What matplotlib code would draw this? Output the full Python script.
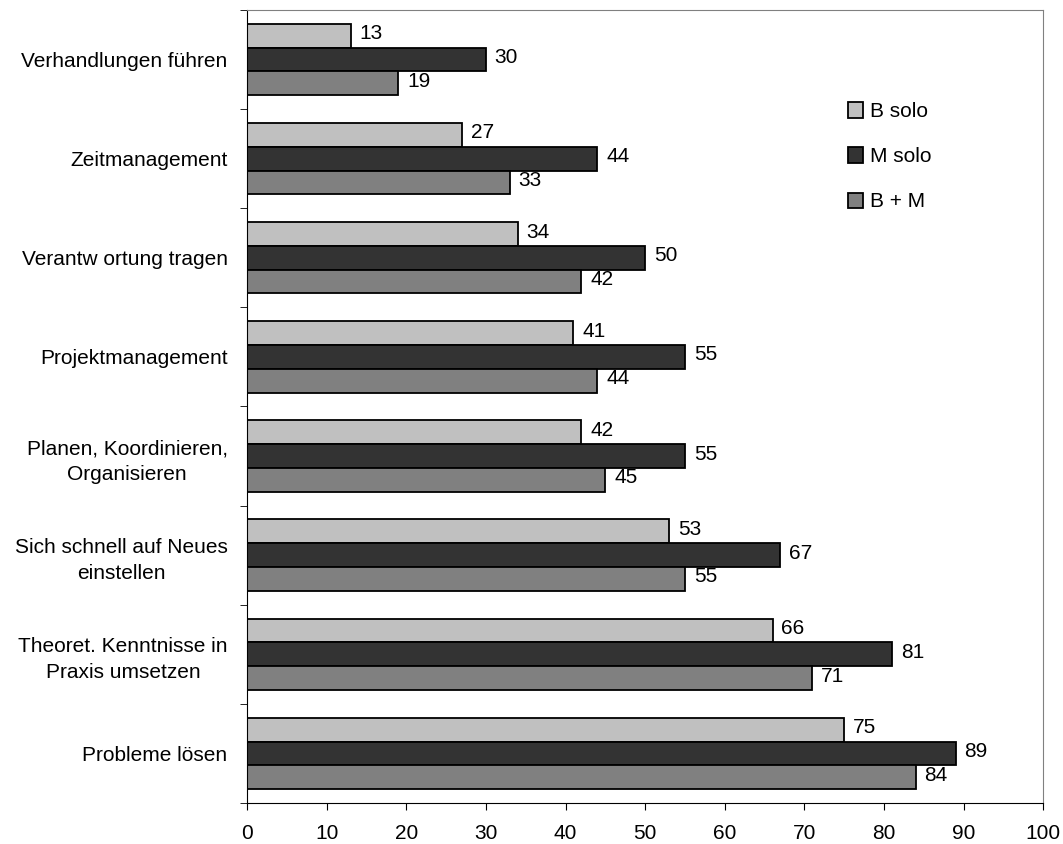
import numpy as np
import matplotlib
matplotlib.use("Agg")
import matplotlib.pyplot as plt

plt.rcParams['font.family'] = ['Liberation Sans', 'DejaVu Sans']

# categories top to bottom, as in the chart
categories = ["Verhandlungen führen", "Zeitmanagement", "Verantw ortung tragen",
              "Projektmanagement", "Planen, Koordinieren,\nOrganisieren",
              "Sich schnell auf Neues\neinstellen",
              "Theoret. Kenntnisse in\nPraxis umsetzen", "Probleme lösen"]
b_solo = [13, 27, 34, 41, 42, 53, 66, 75]
m_solo = [30, 44, 50, 55, 55, 67, 81, 89]
b_m = [19, 33, 42, 44, 45, 55, 71, 84]
series_names = ["B solo", "M solo", "B + M"]
colors = ["#c0c0c0", "#333333", "#808080"]
fs = 15

fig = plt.figure(figsize=(10.63, 8.44), dpi=100)
ax = fig.add_axes([0.2324, 0.0486, 0.749, 0.9396])

n = len(categories)
pos = np.arange(n)[::-1]  # first category on top
h = 0.24
offsets = [h, 0, -h]
for vals, off, col, name in zip([b_solo, m_solo, b_m], offsets, colors, series_names):
    bars = ax.barh(pos + off, vals, height=h, color=col, edgecolor='black',
                   linewidth=1.3, label=name)
    for b, v in zip(bars, vals):
        ax.text(v + 1.1, b.get_y() + h / 2 + 0.02, str(v), va='center', ha='left',
                fontsize=fs)

ax.set_xlim(0, 100)
ax.set_ylim(-0.5, n - 0.5)
ax.set_xticks(np.arange(0, 101, 10))
ax.tick_params(axis='x', labelsize=fs, length=5, direction='out', pad=10)

ax.set_yticks(pos)
ax.set_yticklabels(categories, fontsize=fs, multialignment='center', linespacing=1.45)
ax.tick_params(axis='y', which='major', length=0, pad=14)
ax.set_yticks(np.arange(-0.5, n, 1), minor=True)
ax.tick_params(axis='y', which='minor', length=5, direction='out')

for s in ['top', 'right']:
    ax.spines[s].set_color('#808080')
for s in ['left', 'bottom']:
    ax.spines[s].set_color('black')

ax.legend(loc='upper left', bbox_to_anchor=(0.744, 0.894), frameon=False,
          fontsize=fs, labelspacing=1.25, handlelength=0.75, handleheight=0.75,
          handletextpad=0.3, borderaxespad=0)

fig.savefig("out.png", dpi=100)
